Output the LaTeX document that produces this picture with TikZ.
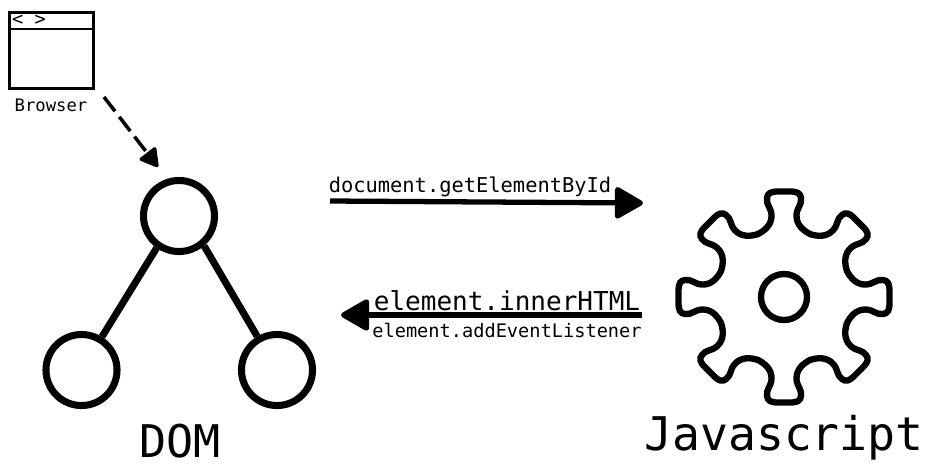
\documentclass[tikz,border=0pt]{standalone}
\usepackage{fontspec}
\setmonofont{DejaVu Sans Mono}
\usetikzlibrary{arrows.meta}

\begin{document}
\begin{tikzpicture}[x=.01cm,y=-.01cm]
\tikzstyle{every node}=[inner sep=0pt, font=\ttfamily]
\tikzstyle{domnode}=[draw, circle, line width=2pt, minimum size=.71cm]
\tikzstyle{hubnode}=[draw, circle, line width=1.8pt, minimum size=.46cm]
\tikzstyle{winnode}=[draw, line width=.75pt, minimum width=.84cm, minimum height=.76cm]
\tikzstyle{biglabel}=[font=\ttfamily\fontsize{12.8pt}{14pt}\selectfont]
\tikzstyle{wire}=[line width=1.5pt, -{Triangle[round,length=.31cm,width=.34cm]}]
\useasboundingbox (0,0) rectangle (925,463);
\draw (51.5,50.5) node (win) [winnode] {};
\draw (29,20) node (arrows) [font=\ttfamily\fontsize{5.3pt}{6pt}\selectfont] {< >};
\draw (51,105) node (browser) [font=\ttfamily\fontsize{4.9pt}{6pt}\selectfont] {Browser};
\draw (win.west |- 0,29) coordinate (barl);
\draw (win.east |- 0,29) coordinate (barr);
\draw[line width=.75pt] (barl) -- (barr);
\draw (179,216) node (v1) [domnode] {};
\draw (81.5,370) node (v2) [domnode] {};
\draw (277,370) node (v3) [domnode] {};
\draw[line width=2pt] (v1.-125) -- (v2);
\draw[line width=2pt] (v1.-50) -- (v3);
\draw (180,441) node (dom) [biglabel] {DOM};
\draw (784,297) node (hub) [hubnode] {};
\foreach \a in {0,45,...,315} {
\begin{scope}[shift={(784,297)},rotate=\a]
\draw[line width=1.8pt, line cap=round] (-26,-63) .. controls (-20,-66) and (-12,-72) .. (-12.5,-82)
  .. controls (-13,-90) and (-18,-92) .. (-17,-99) .. controls (-16.5,-104) and (-13,-105) .. (-8,-105.5)
  -- (8,-105.5) .. controls (13,-105) and (16.5,-104) .. (17,-99) .. controls (18,-92) and (13,-90) .. (12.5,-82)
  .. controls (12,-72) and (20,-66) .. (26,-63);
\end{scope}
}
\draw (784,438) node (js) [font=\ttfamily\fontsize{13.2pt}{15pt}\selectfont] {Javascript};
\draw (104,97) coordinate (dashfrom);
\draw (158,167) coordinate (dashto);
\draw[line width=1pt, dash pattern=on .18cm off .07cm, -{Triangle[round,length=.2cm,width=.22cm]}] (dashfrom) -- (dashto);
\draw (330,201) coordinate (getfrom);
\draw (643,203) coordinate (getto);
\draw[wire] (getfrom) -- (getto);
\draw (642,315) coordinate (setfrom);
\draw (341,315) coordinate (setto);
\draw[wire] (setfrom) -- (setto);
\draw (470,187) node (getlabel) [font=\ttfamily\fontsize{5.8pt}{7pt}\selectfont] {document.getElementById};
\draw (507,301) node (setlabel) [font=\ttfamily\fontsize{7.4pt}{9pt}\selectfont] {element.innerHTML};
\draw (507,330) node (listenlabel) [font=\ttfamily\fontsize{5.3pt}{6pt}\selectfont] {element.addEventListener};
\end{tikzpicture}
\end{document}
